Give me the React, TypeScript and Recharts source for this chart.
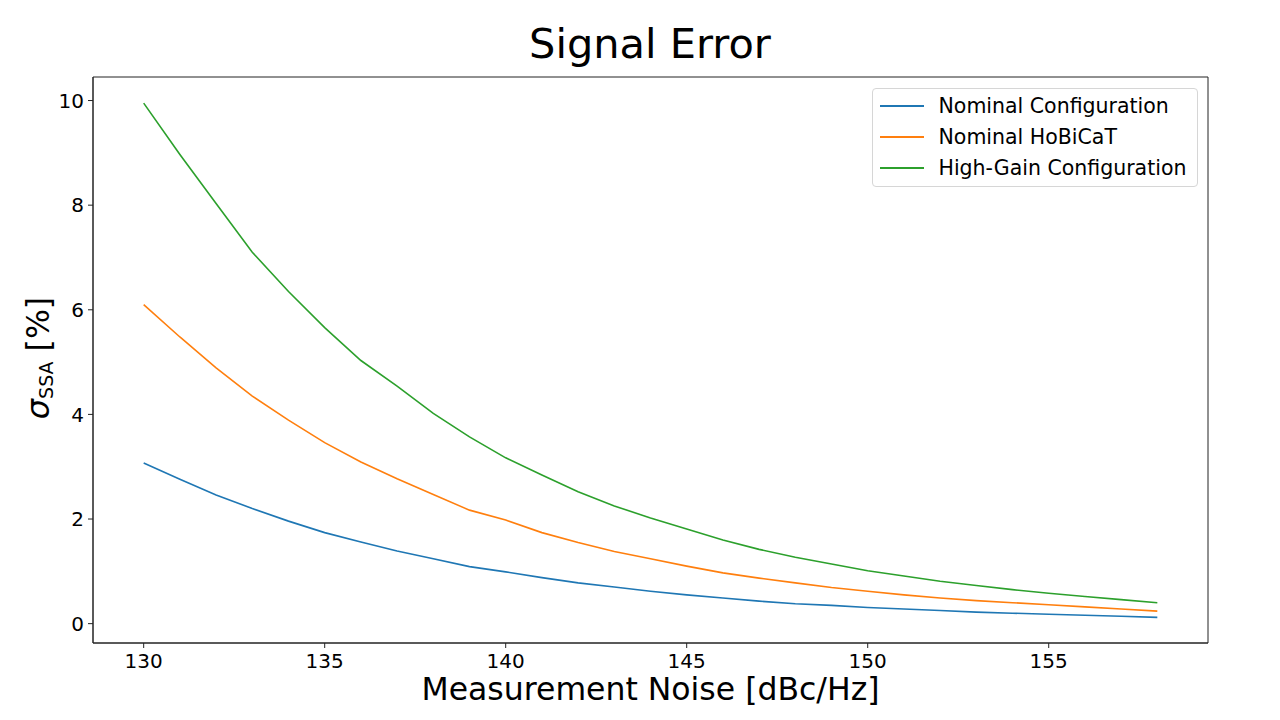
import React from 'react';
import { LineChart, Line, XAxis, YAxis, Legend, ReferenceArea, Customized } from 'recharts';

const noise = [130, 131, 132, 133, 134, 135, 136, 137, 138, 139, 140, 141, 142, 143, 144, 145, 146, 147, 148, 149, 150, 151, 152, 153, 154, 155, 156, 157, 158];
const nominalConfig = [3.07, 2.76, 2.46, 2.2, 1.96, 1.74, 1.56, 1.39, 1.24, 1.09, 0.99, 0.88, 0.78, 0.7, 0.62, 0.55, 0.49, 0.43, 0.38, 0.35, 0.31, 0.28, 0.25, 0.22, 0.2, 0.18, 0.16, 0.14, 0.12];
const nominalHoBiCaT = [6.1, 5.48, 4.89, 4.35, 3.89, 3.46, 3.09, 2.77, 2.47, 2.17, 1.98, 1.74, 1.55, 1.38, 1.24, 1.1, 0.97, 0.87, 0.78, 0.69, 0.62, 0.55, 0.49, 0.44, 0.4, 0.36, 0.32, 0.28, 0.24];
const highGain = [9.95, 8.97, 8.03, 7.1, 6.35, 5.66, 5.03, 4.54, 4.02, 3.57, 3.17, 2.84, 2.52, 2.25, 2.02, 1.81, 1.6, 1.42, 1.27, 1.14, 1.01, 0.91, 0.81, 0.73, 0.65, 0.58, 0.52, 0.46, 0.4];
const xTicks = [130, 135, 140, 145, 150, 155];
const yTicks = [0, 2, 4, 6, 8, 10];
const seriesNames = ['Nominal Configuration', 'Nominal HoBiCaT', 'High-Gain Configuration'];
const seriesKeys = ['a', 'b', 'c'];
const colors = ['#1f77b4', '#ff7f0e', '#2ca02c'];

const data = noise.map((x, i) => ({ x, a: nominalConfig[i], b: nominalHoBiCaT[i], c: highGain[i] }));

const FONT = '"DejaVu Sans", sans-serif';
const X_DOMAIN: [number, number] = [128.6, 159.4];
const Y_DOMAIN: [number, number] = [-0.37, 10.45];

const LegendBox = () => (
  <div
    style={{
      position: 'relative',
      width: 326,
      height: 99,
      border: '1px solid #d6d6d6',
      borderRadius: 4,
      background: 'rgba(255,255,255,0.8)',
      boxSizing: 'border-box',
      fontFamily: FONT,
      fontSize: 20.5,
      color: '#000',
    }}
  >
    {seriesNames.map((name, i) => (
      <div key={name} style={{ position: 'absolute', left: 0, top: 16.5 + i * 31 - 15, height: 30, width: 320 }}>
        <div style={{ position: 'absolute', left: 6.5, top: 14, width: 44, height: 2, background: colors[i] }} />
        <div style={{ position: 'absolute', left: 65.5, top: 0, lineHeight: '30px', whiteSpace: 'nowrap' }}>{name}</div>
      </div>
    ))}
  </div>
);

const Title = () => (
  <text x={650} y={58} textAnchor="middle" fontFamily={FONT} fontSize={41.5} fill="#000">
    Signal Error
  </text>
);

const XLabel = () => (
  <text x={650.5} y={700} textAnchor="middle" fontFamily={FONT} fontSize={31.5} fill="#000">
    Measurement Noise [dBc/Hz]
  </text>
);

const YLabel = () => (
  <text
    x={49}
    y={358}
    transform="rotate(-90 49 358)"
    textAnchor="middle"
    fontFamily={FONT}
    fill="#000"
  >
    <tspan fontSize={32} fontStyle="italic">σ</tspan>
    <tspan fontSize={19} dy={4}>SSA</tspan>
    <tspan fontSize={31.5} dy={-4}> [%]</tspan>
  </text>
);

export default function App() {
  return (
    <div style={{ position: 'absolute', left: 0, top: 0, width: 1280, height: 720, background: '#fff' }}>
      <LineChart width={1280} height={720} data={data} margin={{ top: 77, right: 72, bottom: 37, left: 13 }}>
        <XAxis
          dataKey="x"
          type="number"
          domain={X_DOMAIN}
          ticks={xTicks}
          allowDataOverflow
          height={40}
          tickSize={5}
          tickMargin={6}
          stroke="#222"
          tick={{ fontFamily: FONT, fontSize: 20, fill: '#000' }}
          label={<XLabel />}
        />
        <YAxis
          type="number"
          domain={Y_DOMAIN}
          ticks={yTicks}
          allowDataOverflow
          width={80}
          tickSize={5}
          tickMargin={4}
          stroke="#222"
          tick={{ fontFamily: FONT, fontSize: 20, fill: '#000' }}
          label={<YLabel />}
        />
        <ReferenceArea x1={X_DOMAIN[0]} x2={X_DOMAIN[1]} y1={Y_DOMAIN[0]} y2={Y_DOMAIN[1]} fill="none" stroke="#222" strokeWidth={1} />
        {seriesKeys.map((k, i) => (
          <Line
            key={k}
            type="linear"
            dataKey={k}
            name={seriesNames[i]}
            stroke={colors[i]}
            strokeWidth={1.6}
            dot={false}
            activeDot={false}
            isAnimationActive={false}
          />
        ))}
        <Legend
          layout="vertical"
          align="center"
          verticalAlign="middle"
          content={<LegendBox />}
          wrapperStyle={{ left: 872, top: 88, width: 326, height: 99 }}
        />
        <Customized component={<Title />} />
      </LineChart>
    </div>
  );
}
